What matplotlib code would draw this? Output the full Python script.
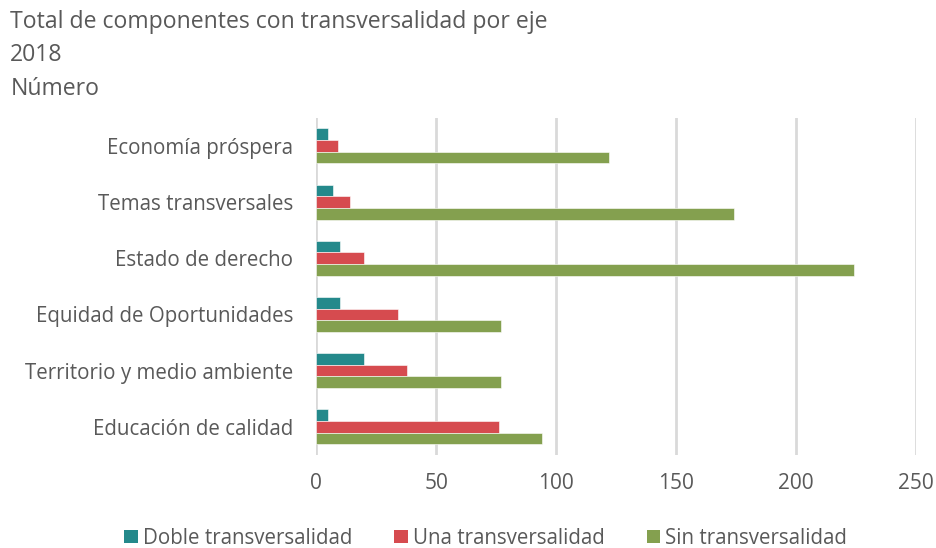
import numpy as np
import matplotlib.pyplot as plt
from matplotlib.patches import Patch

# data
categorias = ["Economía próspera", "Temas transversales", "Estado de derecho",
              "Equidad de Oportunidades", "Territorio y medio ambiente", "Educación de calidad"]
doble = [5, 7, 10, 10, 20, 5]
una = [9, 14, 20, 34, 38, 76]
sin = [122, 174, 224, 77, 77, 94]
series = ["Doble transversalidad", "Una transversalidad", "Sin transversalidad"]
colores = ["#24898B", "#D64B4F", "#84A04F"]
xticks = [0, 50, 100, 150, 200, 250]

plt.rcParams['font.family'] = ['Open Sans', 'DejaVu Sans']
gris = "#595959"

fig = plt.figure(figsize=(9.36, 5.48), dpi=100)
ax = fig.add_axes([0.3376, 0.170, 0.6414, 0.615])

y = np.arange(len(categorias))
h = 0.208
for i, (vals, col) in enumerate(zip([doble, una, sin], colores)):
    ax.barh(y + (i - 1) * h, vals, height=h, color=col, edgecolor="white", linewidth=0.4, zorder=3)

ax.set_yticks(y)
ax.set_yticklabels(categorias, fontsize=14.8, color=gris)
ax.set_ylim(len(categorias) - 0.5, -0.5)
ax.set_xlim(0, 250)
ax.set_xticks(xticks)
ax.set_xticklabels([str(t) for t in xticks], fontsize=15, color=gris)
ax.tick_params(length=0)
ax.tick_params(axis="x", pad=13)
ax.tick_params(axis="y", pad=16.5)
ax.grid(axis="x", color="#D9D9D9", linewidth=2, zorder=0)
for s in ax.spines.values():
    s.set_visible(False)

fig.text(0.011, 0.960, "Total de componentes con transversalidad por eje", fontsize=16.6, color=gris, va="center")
fig.text(0.011, 0.900, "2018", fontsize=16.6, color=gris, va="center")
fig.text(0.011, 0.838, "Número", fontsize=16.6, color=gris, va="center")

handles = [Patch(facecolor=c, label=l) for c, l in zip(colores, series)]
fig.legend(handles=handles, loc="center", bbox_to_anchor=(0.519, 0.018), ncol=3, frameon=False,
           fontsize=14.8, labelcolor=gris, handlelength=0.65, handleheight=0.65, handletextpad=0.25,
           columnspacing=2.05)

fig.savefig("out.png", dpi=100)
